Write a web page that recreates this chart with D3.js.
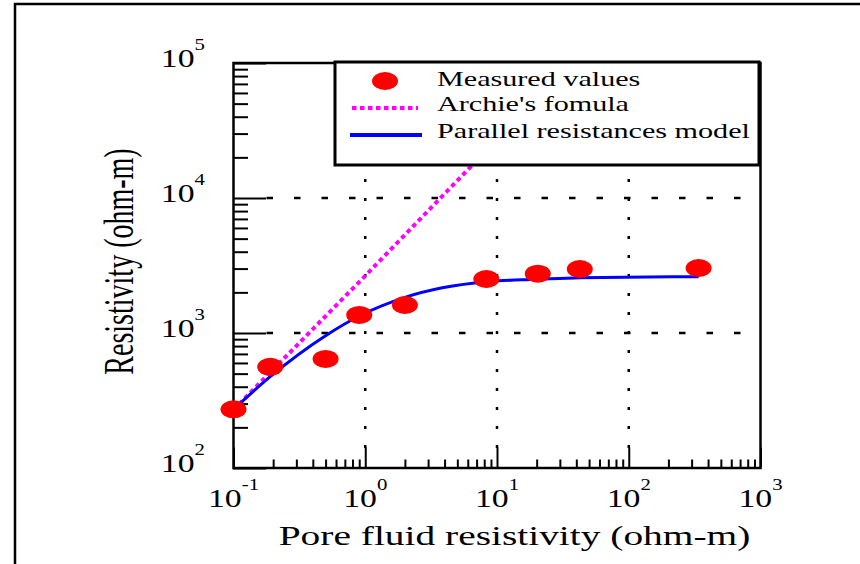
<!DOCTYPE html>
<html>
<head>
<meta charset="utf-8">
<script src="https://cdn.jsdelivr.net/npm/d3@7"></script>
<style>
  body { margin: 0; background: #fff; }
  svg { display: block; font-family: "Liberation Serif", "Times New Roman", serif; }
</style>
</head>
<body>
<div id="chart"></div>
<script>
// values
const xTicks = [0.1, 1, 10, 100, 1000];
const xTickExp = ["-1", "0", "1", "2", "3"];
const yTicks = [100, 1000, 10000, 100000];
const yTickExp = ["2", "3", "4", "5"];

const fluidRes = [0.1, 0.19, 0.5, 0.9, 2.0, 8.3, 20.4, 42.5, 339];
const measured = [272, 562, 642, 1360, 1612, 2512, 2750, 2979, 3030];
const modelRes = [272, 475, 955, 1336, 1838, 2399, 2498, 2570, 2612];
const archieFluid = [0.1, 1, 40];
const archieRes = [270, 2650, 110000];

const legendLabels = ["Measured values", "Archie's fomula", "Parallel resistances model"];

const svgWidth = 860, svgHeight = 564;
const plot = { left: 233.5, right: 760.5, top: 63, bottom: 468 };

const svg = d3.select("#chart").append("svg")
    .attr("width", svgWidth)
    .attr("height", svgHeight);

// outer border, runs off the right and bottom edges
svg.append("rect")
    .attr("x", 15).attr("y", 4)
    .attr("width", 1000).attr("height", 1000)
    .attr("fill", "none").attr("stroke", "#000").attr("stroke-width", 2.5);

const x = d3.scaleLog().domain([0.1, 1000]).range([plot.left, plot.right]);
const y = d3.scaleLog().domain([100, 100000]).range([plot.bottom, plot.top]);

const minors = (lo, hi) => {
    const out = [];
    for (let p = lo; p < hi; p++)
        for (let m = 2; m <= 9; m++) out.push(m * Math.pow(10, p));
    return out;
};

// grid
const grid = svg.append("g").attr("stroke", "#000").attr("stroke-width", 2.5);
grid.selectAll(".hg").data([1000, 10000]).join("line")
    .attr("x1", plot.left + 33).attr("x2", plot.right)
    .attr("y1", d => y(d)).attr("y2", d => y(d))
    .attr("stroke-dasharray", "6.5,21");
grid.selectAll(".vg").data([1, 10, 100]).join("line")
    .attr("x1", d => x(d)).attr("x2", d => x(d))
    .attr("y1", plot.bottom - 20).attr("y2", plot.top)
    .attr("stroke-dasharray", "3,16");

// ticks (inward)
const tickStyle = g => {
    g.select(".domain").remove();
    g.selectAll("line").attr("stroke", "#000").attr("stroke-width", 2);
};
svg.append("g").attr("transform", `translate(${plot.left - 0.5},0)`)
    .call(d3.axisLeft(y).tickValues(yTicks).tickSize(-33).tickFormat(""))
    .call(tickStyle);
svg.append("g").attr("transform", `translate(${plot.left - 0.5},0)`)
    .call(d3.axisLeft(y).tickValues(minors(2, 5)).tickSize(-15).tickFormat(""))
    .call(tickStyle);
svg.append("g").attr("transform", `translate(0,${plot.bottom - 0.5})`)
    .call(d3.axisBottom(x).tickValues(xTicks).tickSize(-20).tickFormat(""))
    .call(tickStyle);
svg.append("g").attr("transform", `translate(0,${plot.bottom - 0.5})`)
    .call(d3.axisBottom(x).tickValues(minors(-1, 3)).tickSize(-8).tickFormat(""))
    .call(tickStyle);

// frame
svg.append("rect")
    .attr("x", plot.left).attr("y", plot.top)
    .attr("width", plot.right - plot.left).attr("height", plot.bottom - plot.top)
    .attr("fill", "none").attr("stroke", "#000").attr("stroke-width", 2.5);

// tick labels
svg.append("g").selectAll("text").data(xTicks).join("text")
    .attr("transform", d => `translate(${x(d)},507) scale(1.3,1)`)
    .attr("text-anchor", "middle")
    .attr("font-size", 26)
    .each(function(d, i) {
        const t = d3.select(this);
        t.append("tspan").text("10");
        t.append("tspan").attr("font-size", 16).attr("dy", -17).text(xTickExp[i]);
    });
svg.append("g").selectAll("text").data(yTicks).join("text")
    .attr("transform", d => `translate(205,${y(d) + 4}) scale(1.3,1)`)
    .attr("text-anchor", "end")
    .attr("font-size", 26)
    .each(function(d, i) {
        const t = d3.select(this);
        t.append("tspan").text("10");
        t.append("tspan").attr("font-size", 16).attr("dy", -17).text(yTickExp[i]);
    });

// axis titles
svg.append("text")
    .attr("transform", "translate(514.5,545) scale(1.46,1)")
    .attr("text-anchor", "middle").attr("font-size", 27)
    .text("Pore fluid resistivity (ohm-m)");
svg.append("text")
    .attr("transform", "translate(133,261.5) scale(1.5,1) rotate(-90)")
    .attr("text-anchor", "middle").attr("font-size", 28)
    .text("Resistivity (ohm-m)");

// data
svg.append("clipPath").attr("id", "clip")
    .append("rect")
    .attr("x", plot.left).attr("y", plot.top)
    .attr("width", plot.right - plot.left).attr("height", plot.bottom - plot.top);

const line = d3.line()
    .x(d => x(d[0]))
    .y(d => y(d[1]));

svg.append("path")
    .datum(archieFluid.map((v, i) => [v, archieRes[i]]))
    .attr("clip-path", "url(#clip)")
    .attr("d", line)
    .attr("fill", "none").attr("stroke", "#ff00ff")
    .attr("stroke-width", 4).attr("stroke-dasharray", "4.5,3.5");

svg.append("path")
    .datum(fluidRes.map((v, i) => [v, modelRes[i]]))
    .attr("d", line.curve(d3.curveMonotoneX))
    .attr("fill", "none").attr("stroke", "#0000ff")
    .attr("stroke-width", 3);

svg.append("g").selectAll("ellipse").data(fluidRes).join("ellipse")
    .attr("cx", d => x(d))
    .attr("cy", (d, i) => y(measured[i]))
    .attr("rx", 13).attr("ry", 9)
    .attr("fill", "#ff0000");

// legend
const lg = svg.append("g");
lg.append("rect")
    .attr("x", 335).attr("y", 62).attr("width", 424).attr("height", 103)
    .attr("fill", "#fff").attr("stroke", "#000").attr("stroke-width", 3);
lg.append("ellipse").attr("cx", 385).attr("cy", 81).attr("rx", 13).attr("ry", 9).attr("fill", "#ff0000");
lg.append("line").attr("x1", 352).attr("x2", 418).attr("y1", 108).attr("y2", 108)
    .attr("stroke", "#ff00ff").attr("stroke-width", 4).attr("stroke-dasharray", "4.5,3.5");
lg.append("line").attr("x1", 350).attr("x2", 422).attr("y1", 135).attr("y2", 135)
    .attr("stroke", "#0000ff").attr("stroke-width", 4);
const baselines = [86, 111, 138];
lg.selectAll("text").data(legendLabels).join("text")
    .attr("transform", (d, i) => `translate(437,${baselines[i]}) scale(1.37,1)`)
    .attr("font-size", 22)
    .text(d => d);
</script>
</body>
</html>
